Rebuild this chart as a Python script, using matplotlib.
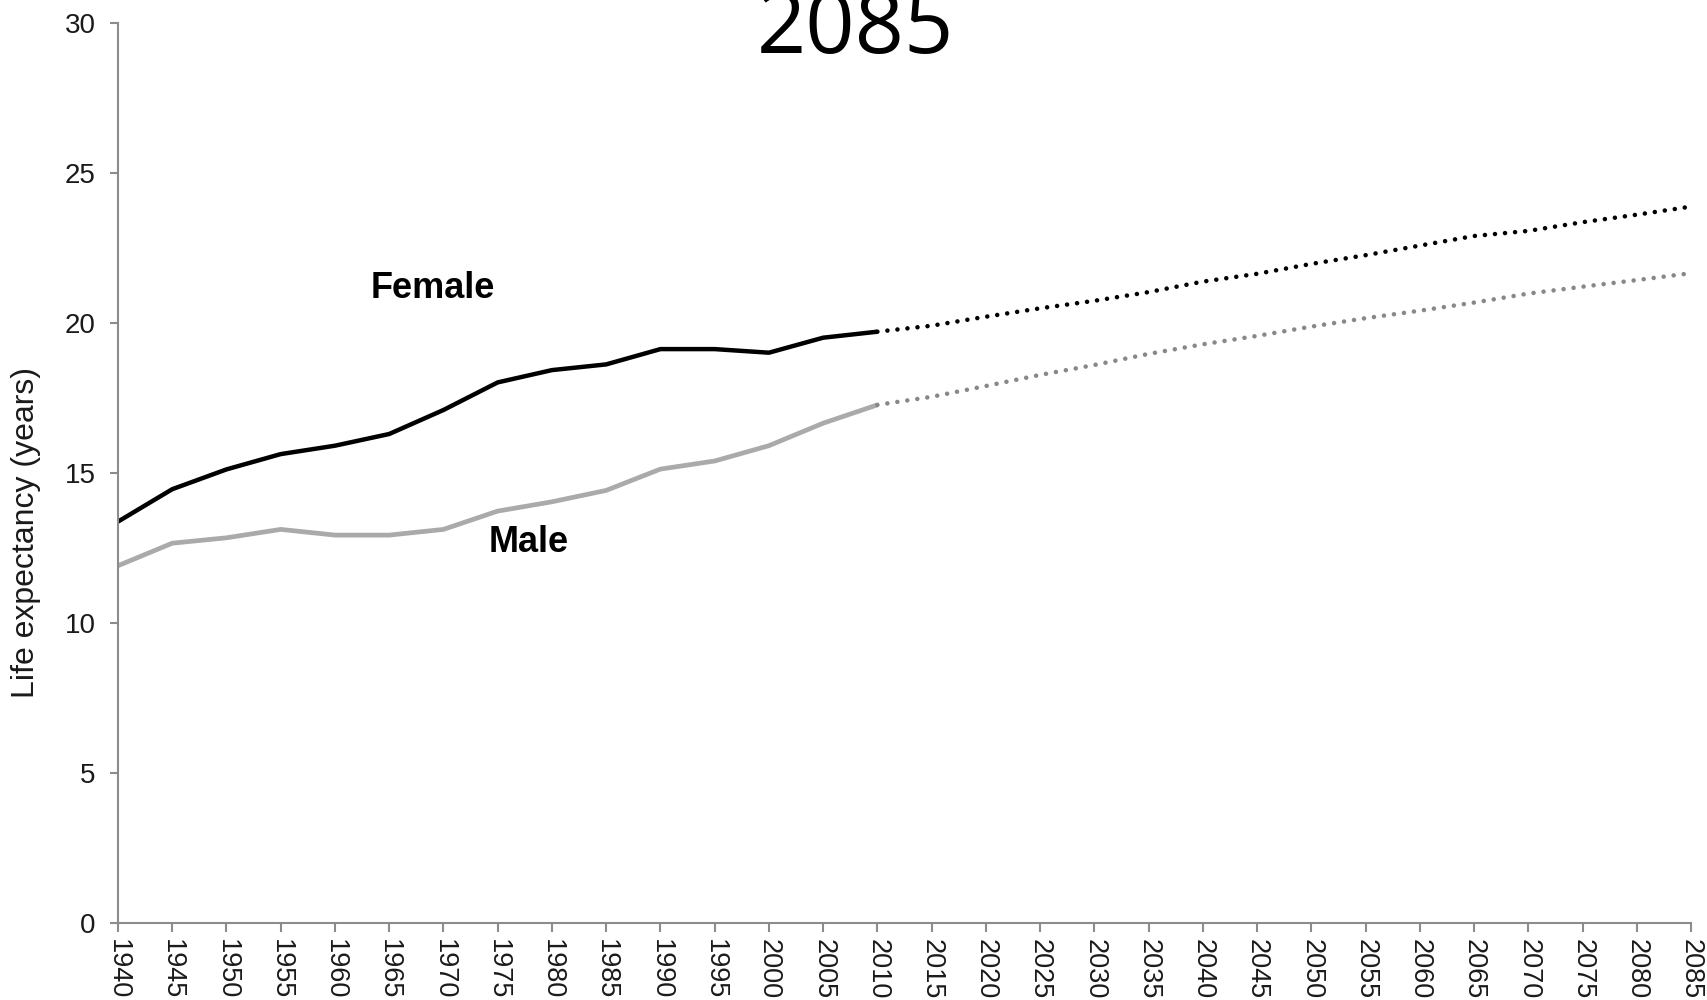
import matplotlib
matplotlib.use("Agg")
import matplotlib.pyplot as plt

# ---- data ----
years_hist = [1940, 1945, 1950, 1955, 1960, 1965, 1970, 1975, 1980, 1985,
              1990, 1995, 2000, 2005, 2010]
female_hist = [13.38, 14.46, 15.12, 15.63, 15.91, 16.30, 17.10, 18.02, 18.43, 18.62,
               19.13, 19.13, 19.01, 19.51, 19.71]
male_hist = [11.91, 12.66, 12.84, 13.12, 12.93, 12.93, 13.12, 13.73, 14.04, 14.42,
             15.13, 15.40, 15.91, 16.66, 17.27]

years_proj = [2010, 2015, 2020, 2025, 2030, 2035, 2040, 2045, 2050, 2055,
              2060, 2065, 2070, 2075, 2080, 2085]
female_proj = [19.71, 19.91, 20.21, 20.49, 20.74, 21.03, 21.38, 21.64, 21.97, 22.26,
               22.58, 22.90, 23.07, 23.36, 23.61, 23.88]
male_proj = [17.27, 17.54, 17.90, 18.27, 18.60, 18.97, 19.29, 19.57, 19.88, 20.16,
             20.41, 20.68, 20.98, 21.21, 21.43, 21.66]

x_ticks = list(range(1940, 2086, 5))
y_ticks = [0, 5, 10, 15, 20, 25, 30]
title_text = "2085"
y_label = "Life expectancy (years)"

# ---- figure ----
fig = plt.figure(figsize=(17.07, 10.0), dpi=100)
ax = fig.add_axes([118 / 1707, 1 - 923 / 1000, (1691 - 118) / 1707, 900 / 1000])

axis_gray = "#8c8c8c"
font = "Liberation Sans"

ax.plot(years_hist, female_hist, color="black", lw=3.2, solid_capstyle="butt",
        solid_joinstyle="round")
ax.plot(years_hist, male_hist, color="#aaaaaa", lw=3.4, solid_capstyle="butt",
        solid_joinstyle="round")
ax.plot(years_proj, female_proj, color="black", lw=3.3,
        linestyle=(0, (0.001, 2.2)), dash_capstyle="round")
ax.plot(years_proj, male_proj, color="#888888", lw=3.3,
        linestyle=(0, (0.001, 2.2)), dash_capstyle="round")

ax.set_xlim(1940, 2085)
ax.set_ylim(0, 30)
ax.set_xticks(x_ticks)
ax.set_xticklabels([str(y) for y in x_ticks], rotation=-90, fontsize=19.5,
                   family=font)
ax.set_yticks(y_ticks)
ax.set_yticklabels([str(v) for v in y_ticks], fontsize=20, family=font)

for s in ["top", "right"]:
    ax.spines[s].set_visible(False)
for s in ["left", "bottom"]:
    ax.spines[s].set_color(axis_gray)
    ax.spines[s].set_linewidth(1.5)
ax.tick_params(axis="both", colors=axis_gray, width=1.5, labelcolor="#1a1a1a")
ax.tick_params(axis="x", length=6.5, pad=5)
ax.tick_params(axis="y", length=6, pad=10)

# series labels
ax.text(1969.0, (923 - 289) / 30, "Female", fontsize=26, fontweight="bold",
        family=font, ha="center", va="center", color="black")
ax.text(1977.9, (923 - 542) / 30, "Male", fontsize=26, fontweight="bold",
        family=font, ha="center", va="center", color="black")

fig.text(26 / 1707, 1 - 532 / 1000, y_label, rotation=90, fontsize=23,
         family=font, ha="center", va="center", color="#1a1a1a")

fig.text(855 / 1707, 1 - 53 / 1000, title_text, fontsize=62, family="Open Sans",
         ha="center", va="baseline", color="black")

fig.savefig("out.png", dpi=100)
